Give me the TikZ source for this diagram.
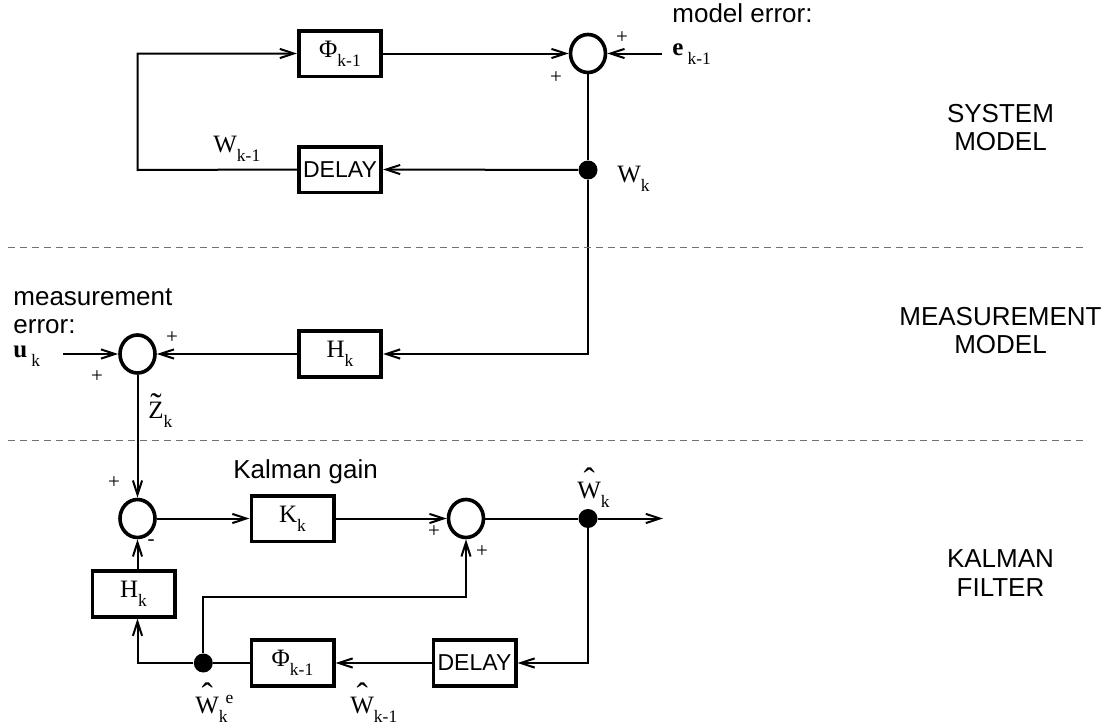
\documentclass[tikz,border=0pt]{standalone}
\usepackage{fontspec}
\setmainfont{Liberation Serif}
\setsansfont{Liberation Sans}
\usetikzlibrary{arrows.meta,shapes.geometric}
\newcommand\sbx[1]{\raisebox{-4.5pt}{\fontsize{8.75}{9}\selectfont #1}}
\newcommand\spx[1]{\raisebox{5pt}{\fontsize{8.75}{9}\selectfont #1}}
\newcommand\mfnt{\fontsize{12.5}{14}\selectfont\rmfamily}
\newcommand\hatW{\leavevmode\rlap{\hbox to 0.944em{\hss\raisebox{3.3pt}{\fontsize{17}{17}\selectfont ˆ}\hss}}W}
\newcommand\tildeZ{\leavevmode\rlap{\hbox to 0.611em{\hss\raisebox{1pt}{\fontsize{17}{17}\selectfont ˜}\hss}}Z}
\tikzset{
  conn/.style={line width=1pt},
  arr/.style={conn,-{Straight Barb[length=7pt,width=4.6pt,line width=1pt]}},
  blk/.style={draw,line width=1.8pt,minimum width=41.2pt,minimum height=22.8pt,inner sep=0pt,font=\mfnt},
  dly/.style={blk,font=\fontsize{11.5}{13}\selectfont\sffamily},
  sumnode/.style={draw,ellipse,line width=1.8pt,minimum width=17.5pt,minimum height=19pt,inner sep=0pt},
  dotnode/.style={circle,fill,inner sep=0pt,minimum size=9.5pt},
  lab/.style={inner sep=0pt,font=\fontsize{13}{15}\selectfont\sffamily},
  mlab/.style={inner sep=0pt,font=\mfnt},
  pls/.style={inner sep=0pt,font=\fontsize{10.5}{11}\selectfont\rmfamily},
  sep/.style={draw=black!55,line width=0.5pt,dash pattern=on 3.5pt off 2.5pt}
}
\begin{document}
\begin{tikzpicture}[x=0.5pt,y=-0.5pt]
\useasboundingbox (0,0) rectangle (1105,728);

% ---------------- system model
\node[blk] (phiT) at (340,53.5) {Φ\sbx{k-1}};
\node[dly] (delT) at (340,169.5) {DELAY};
\node[sumnode] (sumT) at (588,53.5) {};
\node[dotnode] (dotT) at (588,170) {};
\coordinate (eIn) at (662,53.5);
\coordinate (cTL) at (137.7,53.5);
\coordinate (cBL) at (137.7,170);

\draw[arr] (phiT.east) -- (sumT.west);
\draw[arr] (eIn) -- (sumT.east);
\draw[conn] (sumT.south) -- (dotT);
\draw[arr] (dotT) -- (delT.east);
\draw[arr] (delT.west) -- (cBL) -- (cTL) -- (phiT.west);

\node[lab,anchor=base west] (lme) at (672,22) {model error:};
\node[mlab,anchor=base west] (le) at (672,55) {\textbf{e}\,\sbx{k-1}};
\node[mlab,anchor=base west] (lWk) at (617,182) {W\sbx{k}};
\node[mlab,anchor=base west] (lWk1) at (213,152) {W\sbx{k-1}};
\node[pls] (p1) at (622,38) {+};
\node[pls] (p2) at (556,78) {+};

% ---------------- measurement model
\node[blk] (Hm) at (340,354) {H\sbx{k}};
\node[sumnode] (sumM) at (137.5,354) {};
\coordinate (uIn) at (63,354);
\draw[arr] (dotT) |- (Hm.east);
\draw[arr] (Hm.west) -- (sumM.east);
\draw[arr] (uIn) -- (sumM.west);

\node[lab,anchor=base west] (lm1) at (13,305) {measurement};
\node[lab,anchor=base west] (lm2) at (13,333) {error:};
\node[mlab,anchor=base west] (lu) at (13,357) {\textbf{u}\,\sbx{k}};
\node[pls] (p3) at (172,338) {+};
\node[pls] (p4) at (97,377) {+};
\node[mlab,anchor=base west] (lZ) at (148,418) {\tildeZ\sbx{k}};

% ---------------- Kalman filter
\node[sumnode] (sumK) at (137.5,518.5) {};
\node[blk] (Kb) at (292.5,518.5) {K\sbx{k}};
\node[sumnode] (sumS) at (466,518.5) {};
\node[dotnode] (dotO) at (588,518.5) {};
\coordinate (out) at (663,518.5);
\node[blk] (HK) at (133.5,594) {H\sbx{k}};
\node[blk] (phiB) at (292.5,663) {Φ\sbx{k-1}};
\node[dly] (delB) at (474.5,663) {DELAY};
\node[dotnode] (dotE) at (203.3,663) {};
\coordinate (fb) at (466,596.7);

\draw[arr] (sumM.south) -- (sumK.north);
\draw[arr] (sumK.east) -- (Kb.west);
\draw[arr] (Kb.east) -- (sumS.west);
\draw[conn] (sumS.east) -- (dotO);
\draw[arr] (dotO) -- (out);
\draw[arr] (dotO) |- (delB.east);
\draw[arr] (delB.west) -- (phiB.east);
\draw[conn] (phiB.west) -- (dotE);
\draw[arr] (dotE) -| (HK.south -| sumK.south);
\draw[arr] (HK.north -| sumK.south) -- (sumK.south);
\draw[arr] (dotE) |- (fb) -- (sumS.south);

\node[lab,anchor=base west] (lkg) at (233,478) {Kalman gain};
\node[pls] (p5) at (114,483) {+};
\node[pls] (p6) at (151,543) {-};
\node[pls] (p7) at (434,532) {+};
\node[pls] (p8) at (482,552) {+};
\node[mlab,anchor=base west] (lWh) at (577,498) {\hatW\sbx{k}};
\node[mlab,anchor=base west] (lWe) at (195,713) {\hatW\sbx{k}\kern-1pt\spx{e}};
\node[mlab,anchor=base west] (lWh1) at (350,713) {\hatW\sbx{k-1}};

% ---------------- separators and section titles
\draw[sep] (8,247) -- (1085,247);
\draw[sep] (8,440.5) -- (1085,440.5);
\node[lab,anchor=base] (t1) at (1000.5,122) {SYSTEM};
\node[lab,anchor=base] (t2) at (1000.5,150) {MODEL};
\node[lab,anchor=base] (t3) at (1000.5,325) {MEASUREMENT};
\node[lab,anchor=base] (t4) at (1000.5,353) {MODEL};
\node[lab,anchor=base] (t5) at (1000.5,567) {KALMAN};
\node[lab,anchor=base] (t6) at (1000.5,596) {FILTER};
\end{tikzpicture}
\end{document}
